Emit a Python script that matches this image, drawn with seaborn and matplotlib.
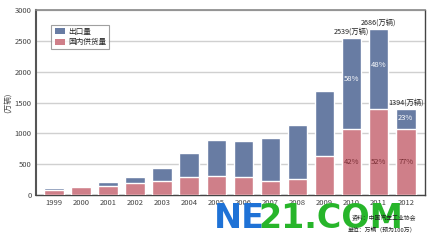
import matplotlib
matplotlib.use("Agg")
import matplotlib.pyplot as plt
import seaborn as sns
import pandas as pd
from matplotlib.patches import Patch

years = ["1999", "2000", "2001", "2002", "2003", "2004", "2005", "2006",
         "2007", "2008", "2009", "2010", "2011", "2012"]
domestic = [82, 135, 145, 200, 235, 295, 315, 285, 220, 255, 635, 1066, 1397, 1073]
export = [28, 15, 65, 92, 195, 385, 585, 595, 700, 885, 1045, 1473, 1289, 321]
yticks = [0, 500, 1000, 1500, 2000, 2500, 3000]
total_labels = {"2010": "2539(万辆)", "2011": "2686(万辆)", "2012": "1394(万辆)"}
export_pct = {"2010": "58%", "2011": "48%", "2012": "23%"}
domestic_pct = {"2010": "42%", "2011": "52%", "2012": "77%"}

sns.set_theme(style="white")
plt.rcParams['font.family'] = ['Noto Sans CJK SC', 'DejaVu Sans']

df = pd.DataFrame({"year": years, "domestic": domestic, "export": export})
df["total"] = df["domestic"] + df["export"]

BLUE = "#687ca3"
PINK = "#cf7f89"

fig = plt.figure(figsize=(4.3, 2.4), dpi=100)
ax = fig.add_axes([36/430, 1 - 195/240, (425-36)/430, (195-10)/240])

sns.barplot(data=df, x="year", y="total", color=BLUE, width=0.72,
            saturation=1, ax=ax, zorder=2)
sns.barplot(data=df, x="year", y="domestic", color=PINK, width=0.72,
            saturation=1, ax=ax, zorder=3)

ax.set_ylim(0, 3000)
ax.set_xlim(-0.66, 13.71)
ax.set_yticks(yticks)
ax.set_yticklabels([str(v) for v in yticks])
ax.yaxis.grid(True, color="#d0d0d0", linewidth=1.0, zorder=0)
ax.set_axisbelow(True)
ax.tick_params(axis="both", labelsize=5.5, colors="#444444", length=0, pad=3)
ax.set_xlabel("")
ax.set_ylabel("(万辆)", fontsize=5.5, color="#444444", labelpad=2)

for side in ["left", "bottom", "right", "top"]:
    ax.spines[side].set_visible(True)
ax.spines["left"].set_color("#555555")
ax.spines["left"].set_linewidth(1.5)
ax.spines["top"].set_color("#888888")
ax.spines["top"].set_linewidth(1.2)
ax.spines["right"].set_color("#444444")
ax.spines["right"].set_linewidth(1.0)
ax.spines["bottom"].set_color("#444444")
ax.spines["bottom"].set_linewidth(1.0)

for i, y in enumerate(years):
    d = df.loc[i, "domestic"]
    t = df.loc[i, "total"]
    if y in total_labels:
        ax.text(i, t + 40, total_labels[y], ha="center", va="bottom",
                fontsize=5.2, color="#222222")
    if y in export_pct:
        ax.text(i, d + (t - d) * 0.55, export_pct[y], ha="center", va="center",
                fontsize=5.5, color="white", zorder=5)
    if y in domestic_pct:
        ax.text(i, 540, domestic_pct[y], ha="center", va="center",
                fontsize=5.5, color="#7a2e35", zorder=5)

handles = [Patch(facecolor=BLUE, edgecolor="none", label="出口量"),
           Patch(facecolor=PINK, edgecolor="none", label="国内供货量")]
leg = ax.legend(handles=handles, loc="upper left", bbox_to_anchor=(0.03, 0.94),
                fontsize=5.5, frameon=True, fancybox=False, handlelength=1.4,
                handleheight=0.8, borderpad=0.4, labelspacing=0.3, handletextpad=0.4)
leg.get_frame().set_edgecolor("#888888")
leg.get_frame().set_linewidth(0.8)

# site watermark (drawn beneath the source notes)
fig.text(214/430, 1 - 219/240, "NE", fontsize=24, fontweight="bold",
         color="#1f72d6", ha="left", va="center", family="DejaVu Sans", zorder=1)
fig.text(258/430, 1 - 219/240, "21.COM", fontsize=24, fontweight="bold",
         color="#27b52a", ha="left", va="center", family="DejaVu Sans", zorder=1)

fig.text(384/430, 1 - 218/240, "资料：中国汽车工业协会", fontsize=4.2,
         ha="center", va="center", color="#222222", zorder=3)
fig.text(382/430, 1 - 229/240, "单位：万辆（预为100万）", fontsize=4.2,
         ha="center", va="center", color="#222222", zorder=3)

fig.savefig("out.png", dpi=100)
